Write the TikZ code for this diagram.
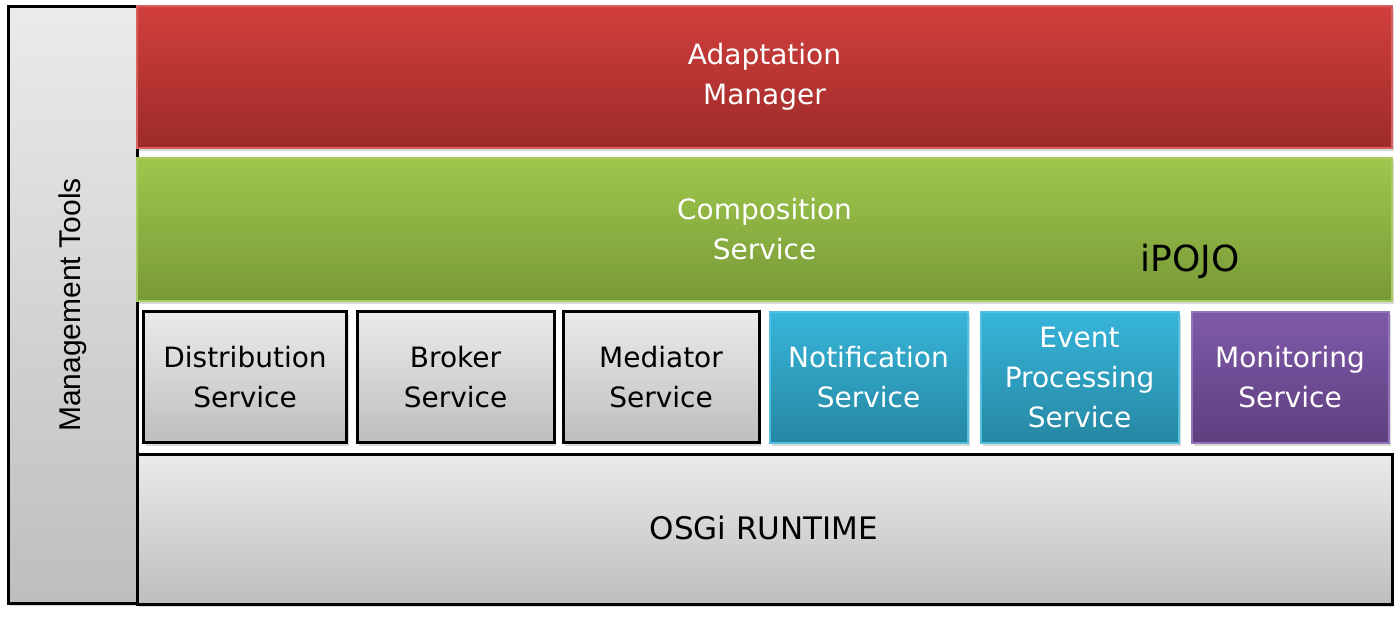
\documentclass[tikz,border=0pt]{standalone}
\usepackage{fontspec}
\setmainfont{DejaVu Sans}
\newfontfamily\toolsfont{Liberation Sans}
\usetikzlibrary{positioning,shadows}

\definecolor{greytop}{HTML}{EBEBEB}
\definecolor{greybot}{HTML}{BEBEBE}
\definecolor{redtop}{HTML}{D13F3D}
\definecolor{redbot}{HTML}{9D2B29}
\definecolor{redline}{HTML}{D8605E}
\definecolor{greentop}{HTML}{9FC74C}
\definecolor{greenbot}{HTML}{779937}
\definecolor{greenline}{HTML}{A9CC62}
\definecolor{bluetop}{HTML}{37B5DA}
\definecolor{bluebot}{HTML}{2687A2}
\definecolor{blueline}{HTML}{4FC0E0}
\definecolor{purpletop}{HTML}{7F5AA9}
\definecolor{purplebot}{HTML}{5E3F7F}
\definecolor{purpleline}{HTML}{9073B8}

\tikzset{
  layer/.style={rectangle, inner sep=0pt, outer sep=0pt, align=center,
    font=\fontsize{28}{40}\selectfont,
    drop shadow={opacity=0.3, shadow xshift=2pt, shadow yshift=-3pt}},
  greybox/.style={layer, draw=black, line width=3pt, top color=greytop, bottom color=greybot},
  redbox/.style={layer, draw=redline, line width=2pt, top color=redtop, bottom color=redbot, text=white},
  greenbox/.style={layer, draw=greenline, line width=2pt, top color=greentop, bottom color=greenbot, text=white},
  bluebox/.style={layer, draw=blueline, line width=2pt, top color=bluetop, bottom color=bluebot, text=white},
  purplebox/.style={layer, draw=purpleline, line width=2pt, top color=purpletop, bottom color=purplebot, text=white},
}

\begin{document}
\begin{tikzpicture}[x=1pt,y=-1pt]
  \useasboundingbox (0,0) rectangle (1400,616);

  % side bar
  \node[greybox, minimum width=129, minimum height=597] (tools) at (72.5,304.5) {};
  \node[rotate=90, font=\toolsfont\fontsize{30}{36}\selectfont] (toolslbl) at (73,305) {Management Tools};

  % upper layers
  \node[redbox, minimum width=1255, minimum height=142] (adapt) at (764.5,77) {Adaptation\\Manager};
  \node[greenbox, minimum width=1255, minimum height=143] (compo) at (764.5,229.5) {Composition\\Service};
  \node[font=\fontsize{36}{40}\selectfont] (ipojo) at (1190,261) {iPOJO};

  % services
  \node[greybox, minimum width=203, minimum height=131] (distrib) at (245,377) {Distribution\\Service};
  \node[greybox, minimum width=197, minimum height=131] (broker) at (455.5,377) {Broker\\Service};
  \node[greybox, minimum width=196, minimum height=131] (mediator) at (661,377) {Mediator\\Service};
  \node[bluebox, minimum width=198, minimum height=131] (notif) at (868.5,377) {Notification\\Service};
  \node[bluebox, minimum width=198, minimum height=131] (event) at (1079.5,377) {Event\\Processing\\Service};
  \node[purplebox, minimum width=197, minimum height=131] (monitor) at (1290,377) {Monitoring\\Service};

  % runtime
  \node[greybox, minimum width=1255, minimum height=150] (osgi) at (764.5,529) {};
  \node[font=\fontsize{31}{36}\selectfont] (osgilbl) at (764,528) {OSGi RUNTIME};
\end{tikzpicture}
\end{document}
